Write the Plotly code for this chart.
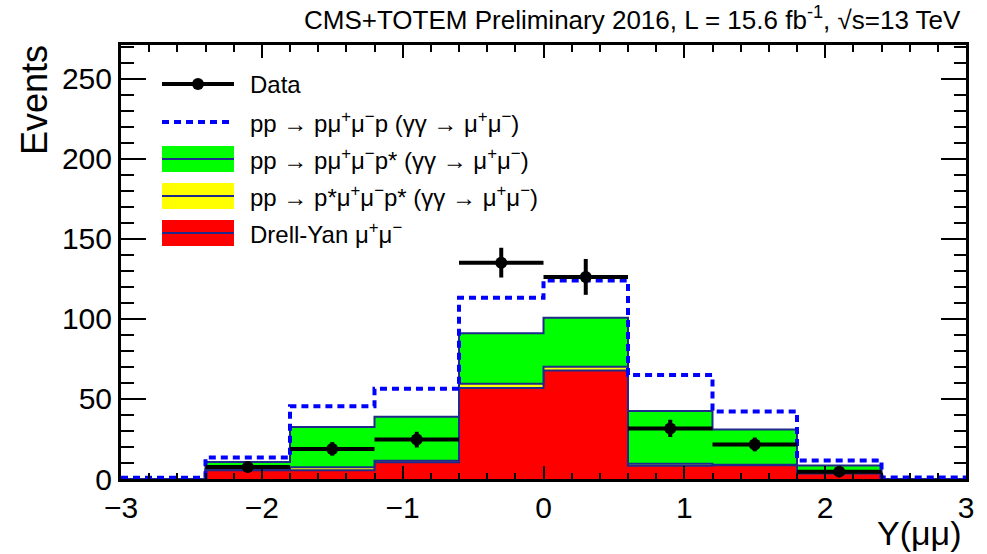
import numpy as np
import plotly.graph_objects as go

# ---------------- data ----------------
bin_edges = [-3.0, -2.4, -1.8, -1.2, -0.6, 0.0, 0.6, 1.2, 1.8, 2.4, 3.0]
drell_yan = [0.0, 5.5, 5.5, 10.5, 56.8, 67.8, 8.2, 8.6, 3.5, 0.0]
double_dissoc = [0.0, 0.5, 1.9, 0.9, 2.7, 2.3, 1.3, 0.3, 0.5, 0.0]
single_dissoc = [0.0, 4.6, 25.0, 27.5, 31.5, 30.6, 32.9, 22.0, 4.4, 0.0]
elastic = [0.8, 2.8, 13.1, 17.5, 22.2, 23.3, 22.5, 11.3, 3.2, 1.0]

data_x = [-2.1, -1.5, -0.9, -0.3, 0.3, 0.9, 1.5, 2.1]
data_y = [7.5, 18.8, 24.6, 135.1, 126.2, 31.6, 21.6, 4.6]
data_err = [2.7, 4.2, 4.9, 9.3, 11.2, 5.4, 4.3, 2.1]
data_xerr = [0.3] * 8

x_ticks = [-3, -2, -1, 0, 1, 2, 3]
y_ticks = [0, 50, 100, 150, 200, 250]

# ---------------- styling ----------------
FONT = "Liberation Sans, Arial, Helvetica, sans-serif"
NAVY = "#1f2a8a"
W, H = 987, 554
L, R, T, B = 121, 21, 45, 75
PW, PH = W - L - R, H - T - B


def px(xp):
    return (xp - L) / PW


def py(yp):
    return (H - B - yp) / PH


def step(vals):
    return list(vals) + [vals[-1]]


s_red = np.array(drell_yan)
s_yel = s_red + np.array(double_dissoc)
s_grn = s_yel + np.array(single_dissoc)
s_blu = s_grn + np.array(elastic)

fig = go.Figure()
fig.add_trace(go.Scatter(x=bin_edges, y=step(s_red), mode="lines", line_shape="hv",
                         line=dict(color=NAVY, width=2), fill="tozeroy",
                         fillcolor="#ff0000", showlegend=False))
fig.add_trace(go.Scatter(x=bin_edges, y=step(s_yel), mode="lines", line_shape="hv",
                         line=dict(color=NAVY, width=2), fill="tonexty",
                         fillcolor="#ffff00", showlegend=False))
fig.add_trace(go.Scatter(x=bin_edges, y=step(s_grn), mode="lines", line_shape="hv",
                         line=dict(color=NAVY, width=2), fill="tonexty",
                         fillcolor="#00ff00", showlegend=False))
fig.add_trace(go.Scatter(x=bin_edges, y=step(s_blu), mode="lines", line_shape="hv",
                         line=dict(color="#0000ff", width=4, dash="7px,5px"),
                         showlegend=False))
fig.add_trace(go.Scatter(x=data_x, y=data_y, mode="markers",
                         marker=dict(color="black", size=12),
                         error_x=dict(type="data", array=data_xerr, color="black",
                                      thickness=4, width=0),
                         error_y=dict(type="data", array=data_err, color="black",
                                      thickness=4, width=0),
                         showlegend=False))

# ---------------- manual legend ----------------
shapes = []
x0, x1 = 162, 234
# Data
shapes.append(dict(type="line", xref="paper", yref="paper", x0=px(x0), x1=px(x1),
                   y0=py(84), y1=py(84), line=dict(color="black", width=4)))
shapes.append(dict(type="circle", xref="paper", yref="paper", x0=px(192), x1=px(204),
                   y0=py(90), y1=py(78), fillcolor="black", line=dict(color="black", width=0)))
# elastic dashed
shapes.append(dict(type="line", xref="paper", yref="paper", x0=px(x0), x1=px(x1),
                   y0=py(122), y1=py(122),
                   line=dict(color="#0000ff", width=4, dash="7px,5px")))
# boxes
for (yc, col) in [(159, "#00ff00"), (196, "#ffff00"), (233, "#ff0000")]:
    shapes.append(dict(type="rect", xref="paper", yref="paper", x0=px(x0), x1=px(x1),
                       y0=py(yc + 13), y1=py(yc - 13), fillcolor=col,
                       line=dict(width=0)))
    shapes.append(dict(type="line", xref="paper", yref="paper", x0=px(x0), x1=px(x1),
                       y0=py(yc), y1=py(yc), line=dict(color=NAVY, width=2)))

legend_texts = [
    (84, "Data"),
    (122, "pp → pμ<sup>+</sup>μ<sup>−</sup>p (γγ → μ<sup>+</sup>μ<sup>−</sup>)"),
    (159, "pp → pμ<sup>+</sup>μ<sup>−</sup>p* (γγ → μ<sup>+</sup>μ<sup>−</sup>)"),
    (196, "pp → p*μ<sup>+</sup>μ<sup>−</sup>p* (γγ → μ<sup>+</sup>μ<sup>−</sup>)"),
    (233, "Drell-Yan μ<sup>+</sup>μ<sup>−</sup>"),
]
annotations = []
for yc, txt in legend_texts:
    annotations.append(dict(text=txt, xref="paper", yref="paper", x=px(248), y=py(yc),
                            xanchor="left", yanchor="middle", showarrow=False,
                            font=dict(family=FONT, size=24, color="black")))

# axis titles & header
annotations.append(dict(text="Events", xref="paper", yref="paper", x=px(35), y=py(100),
                        xanchor="center", yanchor="middle", textangle=-90, showarrow=False,
                        font=dict(family=FONT, size=36, color="black")))
annotations.append(dict(text="Y(μμ)", xref="paper", yref="paper", x=px(964), y=py(554),
                        xanchor="right", yanchor="bottom", showarrow=False,
                        font=dict(family=FONT, size=34, color="black")))
annotations.append(dict(text="CMS+TOTEM Preliminary 2016, L = 15.6 fb<sup>-1</sup>, √s=13 TeV",
                        xref="paper", yref="paper", x=px(963), y=py(19),
                        xanchor="right", yanchor="middle", showarrow=False,
                        font=dict(family=FONT, size=26, color="black")))

axis_common = dict(showgrid=False, zeroline=False, showline=True, linecolor="black",
                   linewidth=3, mirror="ticks", ticks="inside", tickcolor="black",
                   tickwidth=2, layer="above traces",
                   tickfont=dict(family=FONT, size=30, color="black"))

fig.update_layout(
    width=W, height=H,
    margin=dict(l=L, r=R, t=T, b=B),
    paper_bgcolor="white", plot_bgcolor="white",
    shapes=shapes, annotations=annotations,
    xaxis=dict(range=[bin_edges[0], bin_edges[-1]], tickvals=x_ticks, ticklen=13,
               ticklabelstandoff=0,
               minor=dict(ticks="inside", ticklen=6.5, dtick=0.2, tickcolor="black",
                          tickwidth=2, showgrid=False),
               **axis_common),
    yaxis=dict(range=[0, 271], tickvals=y_ticks, ticklen=25,
               minor=dict(ticks="inside", ticklen=12.5, dtick=10, tickcolor="black",
                          tickwidth=2, showgrid=False),
               **axis_common),
    showlegend=False,
)

fig.write_html("out.html")
